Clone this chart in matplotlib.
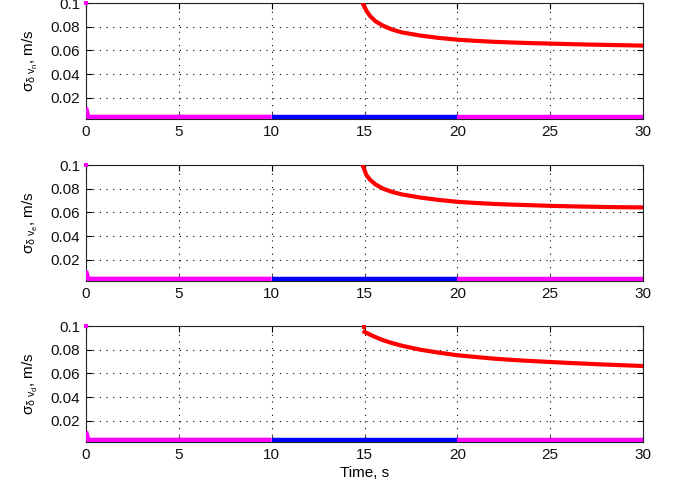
import matplotlib
matplotlib.use("Agg")
import matplotlib.pyplot as plt

plt.rcParams['font.family'] = ['Liberation Sans', 'DejaVu Sans']
plt.rcParams['mathtext.fontset'] = 'custom'
plt.rcParams['mathtext.rm'] = 'Liberation Sans'
plt.rcParams['mathtext.it'] = 'Liberation Sans'
plt.rcParams['mathtext.bf'] = 'Liberation Sans:bold'

# ---- data ----
ylabels = [r'$\sigma_{\delta\ v_n}$, m/s', r'$\sigma_{\delta\ v_e}$, m/s', r'$\sigma_{\delta\ v_d}$, m/s']
xticks = [0, 5, 10, 15, 20, 25, 30]
yticks = [0.02, 0.04, 0.06, 0.08, 0.1]
yticklabels = ['0.02', '0.04', '0.06', '0.08', '0.1']

# magenta segments (0-10 s and 20-30 s), blue segment (10-20 s)
mag1_t = [0.0, 0.12, 10.0]
mag1_v = [[0.0115, 0.0038, 0.0038], [0.0106, 0.0038, 0.0038], [0.0110, 0.0038, 0.0038]]
mag2_t = [20.0, 30.0]
mag2_v = [0.0038, 0.0038]
blue_t = [10.0, 20.0]
blue_v = [0.0038, 0.0038]
start_dot = 0.1

# red: estimation sigma after 15 s
red_t_ne = [14.9, 15.1, 15.3, 15.6, 16.0, 16.5, 17.0, 18.0, 19.0, 20.0,
            21.0, 22.0, 23.0, 24.0, 25.0, 26.0, 27.0, 28.0, 29.0, 30.0]
red_n = [0.100, 0.0935, 0.0890, 0.0845, 0.0808, 0.0775, 0.0752, 0.0725, 0.0705, 0.0690,
         0.0680, 0.0672, 0.0666, 0.0661, 0.0657, 0.0653, 0.0649, 0.0646, 0.0643, 0.0640]
red_e = [0.100, 0.0915, 0.0875, 0.0835, 0.0800, 0.0772, 0.0752, 0.0725, 0.0705, 0.0689,
         0.0679, 0.0671, 0.0665, 0.0660, 0.0655, 0.0651, 0.0648, 0.0645, 0.0643, 0.0642]
red_t_d = [15.0, 15.5, 16.0, 16.5, 17.0, 18.0, 19.0, 20.0, 21.0, 22.0,
           23.0, 24.0, 25.0, 26.0, 27.0, 28.0, 29.0, 30.0]
red_d = [0.0950, 0.0912, 0.0880, 0.0855, 0.0834, 0.0800, 0.0775, 0.0753, 0.0738, 0.0724,
         0.0713, 0.0704, 0.0696, 0.0688, 0.0681, 0.0674, 0.0668, 0.0662]
red_sets = [(red_t_ne, red_n), (red_t_ne, red_e), (red_t_d, red_d)]

fig = plt.figure(figsize=(6.73, 4.90), dpi=100)
W, H = 673.0, 490.0
ax_px = [(3, 119), (165, 281), (326, 442)]
left, right = 86, 643
fs = 11

for i, (top, bot) in enumerate(ax_px):
    ax = fig.add_axes([left / W, 1 - bot / H, (right - left) / W, (bot - top) / H])
    ax.plot(blue_t, blue_v, color='#0000ff', lw=3.2, solid_capstyle='butt', zorder=3)
    ax.plot(mag1_t, mag1_v[i], color='#ff00ff', lw=3.2, solid_capstyle='butt', zorder=3)
    ax.plot(mag2_t, mag2_v, color='#ff00ff', lw=3.2, solid_capstyle='butt', zorder=3)
    ax.plot([0], [start_dot], 's', color='#ff00ff', ms=2.5, mew=0, clip_on=False, zorder=4)
    rt, rv = red_sets[i]
    ax.plot(rt, rv, color='#ff0000', lw=3, zorder=3)
    if i == 2:
        ax.plot([14.95], [start_dot - 0.001], 's', color='#ff0000', ms=2.5, mew=0,
                clip_on=False, zorder=4)
    ax.set_xlim(0, 30)
    ax.set_ylim(0.002, 0.1)
    ax.set_xticks(xticks)
    ax.set_xticklabels([str(x) for x in xticks])
    ax.set_yticks(yticks)
    ax.set_yticklabels(yticklabels)
    ax.grid(True, color='black', linestyle=(0, (1, 5)), linewidth=0.8)
    ax.tick_params(direction='in', top=True, right=True, labelsize=fs, length=4,
                   width=0.8, pad=4, labelcolor='#111111')
    for s in ax.spines.values():
        s.set_color('#222222')
        s.set_linewidth(0.8)
    ax.set_ylabel(ylabels[i], fontsize=fs, labelpad=8)
    if i == 2:
        ax.set_xlabel('Time, s', fontsize=fs, labelpad=3)

fig.savefig('out.png', dpi=100)
